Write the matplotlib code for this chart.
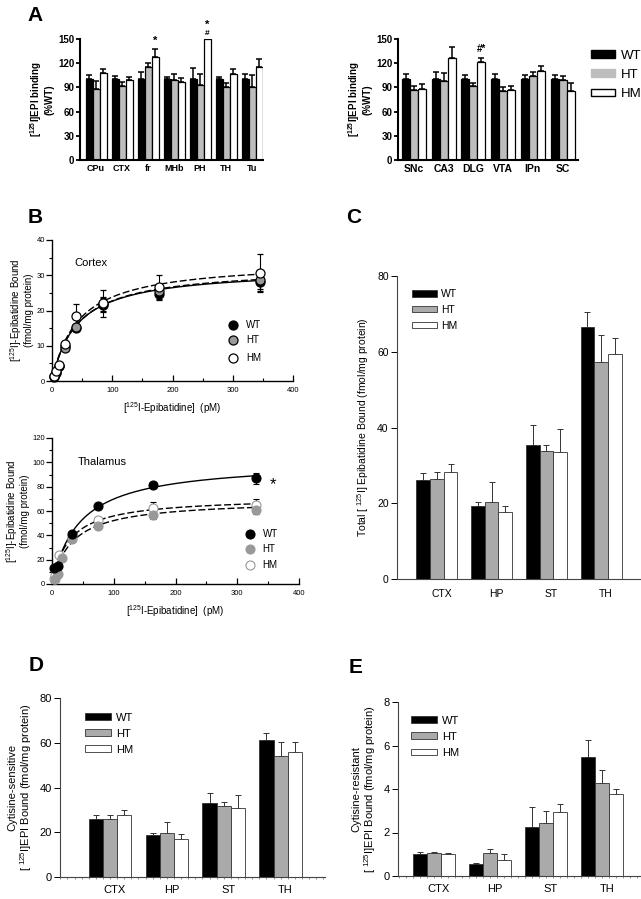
import numpy as np
import matplotlib
matplotlib.use('Agg')
import matplotlib.pyplot as plt
from matplotlib.patches import Patch
from matplotlib.ticker import MultipleLocator

plt.rcParams['font.family'] = ['Liberation Sans', 'DejaVu Sans']
plt.rcParams['mathtext.fontset'] = 'custom'
plt.rcParams['mathtext.rm'] = 'Liberation Sans'
plt.rcParams['mathtext.bf'] = 'Liberation Sans:bold'
plt.rcParams['mathtext.default'] = 'regular'

# ---- Panel A: binding as %WT ----
a_left_regions = ['CPu', 'CTX', 'fr', 'MHb', 'PH', 'TH', 'Tu']
a_left_wt = [100, 100, 100, 100, 100, 100, 100]
a_left_ht = [88, 92, 115, 99, 93, 90, 90]
a_left_hm = [108, 99, 128, 97, 150, 107, 115]
a_left_wt_err = [5.5, 4, 8.5, 3, 14, 3, 7]
a_left_ht_err = [10, 5, 5, 7, 14, 5, 15]
a_left_hm_err = [5, 4, 9, 5, 0, 5.5, 10]

a_right_regions = ['SNc', 'CA3', 'DLG', 'VTA', 'IPn', 'SC']
a_right_wt = [100, 100, 100, 100, 100, 100]
a_right_ht = [87, 98, 92, 85, 104, 99]
a_right_hm = [88, 126, 122, 87, 110, 86]
a_right_wt_err = [6.5, 9.5, 5, 6.5, 5.5, 5]
a_right_ht_err = [5, 10, 3, 5, 4.5, 5.5]
a_right_hm_err = [6.5, 14, 5, 5, 6, 9]

# ---- Panel B: saturation binding ----
ctx_x = [3, 7, 11, 21, 40, 84, 177, 345]
ctx_wt = [1.2, 2.4, 4.2, 9.8, 15.0, 21.5, 24.8, 28.0]
ctx_ht = [1.3, 2.5, 4.3, 9.5, 15.2, 21.8, 25.5, 28.6]
ctx_hm = [1.4, 2.7, 4.5, 10.4, 18.3, 22.0, 26.6, 30.7]
ctx_wt_err = [0.3, 0.3, 0.4, 0.6, 0.8, 2.0, 1.5, 2.5]
ctx_ht_err = [0.3, 0.3, 0.4, 0.6, 0.8, 2.0, 1.5, 2.5]
ctx_hm_err = [0.3, 0.4, 0.5, 1.0, 3.6, 3.8, 3.6, 5.4]
ctx_bmax = {'WT': 31.9, 'HT': 32.3, 'HM': 34.1}
ctx_kd = {'WT': 41, 'HT': 42, 'HM': 43.2}

th_wt_x = [4, 9, 32, 74, 163, 331]
th_wt = [13, 15, 41.5, 64, 81.5, 87]
th_wt_err = [2, 2, 2, 2, 2, 4.5]
th_ht_x = [5, 9, 17, 32, 74, 163, 331]
th_ht = [4, 8, 21, 37, 47.5, 57, 61]
th_ht_err = [1, 1, 2, 2, 2, 3.5, 3.5]
th_hm_x = [3, 5, 7, 12, 32, 74, 163, 331]
th_hm = [3.8, 7, 11.5, 24, 39, 52.5, 62.5, 65]
th_hm_err = [1, 1, 1, 2, 2, 2, 5, 5]
th_bmax = {'WT': 101, 'HT': 69.2, 'HM': 71.5}
th_kd = {'WT': 44.6, 'HT': 32.7, 'HM': 27.8}

# ---- Panels C, D, E: fmol/mg protein ----
regions = ['CTX', 'HP', 'ST', 'TH']
c_wt = [26.2, 19.2, 35.3, 66.5]
c_ht = [26.4, 20.3, 33.8, 57.4]
c_hm = [28.2, 17.8, 33.4, 59.4]
c_wt_err = [1.8, 1.0, 5.3, 3.9]
c_ht_err = [1.8, 5.2, 1.5, 7.0]
c_hm_err = [2.2, 1.6, 6.2, 4.3]

d_wt = [25.7, 18.8, 33.2, 61.2]
d_ht = [25.7, 19.7, 31.6, 54.0]
d_hm = [27.7, 17.2, 30.7, 55.8]
d_wt_err = [2.0, 0.9, 4.5, 3.2]
d_ht_err = [2.0, 5.0, 1.7, 6.4]
d_hm_err = [2.1, 1.9, 5.8, 4.5]

e_wt = [1.00, 0.57, 2.27, 5.45]
e_ht = [1.04, 1.07, 2.44, 4.27]
e_hm = [1.03, 0.74, 2.96, 3.76]
e_wt_err = [0.12, 0.04, 0.91, 0.80]
e_ht_err = [0.06, 0.16, 0.57, 0.60]
e_hm_err = [0.04, 0.26, 0.37, 0.23]

W, H = 641, 899
fig = plt.figure(figsize=(W / 100, H / 100), dpi=100)


def px_axes(x0, y0, x1, y1):
    return fig.add_axes([x0 / W, 1 - y1 / H, (x1 - x0) / W, (y1 - y0) / H])


def bars_a(ax, labels, wt, ht, hm, wte, hte, hme, xlim, fs):
    x = np.arange(len(labels))
    w = 0.27
    for off, vals, errs, col in [(-w, wt, wte, 'black'), (0, ht, hte, '#bdbdbd'), (w, hm, hme, 'white')]:
        ax.bar(x + off, vals, w, color=col, edgecolor='black', linewidth=0.9, zorder=2)
        ax.errorbar(x + off, vals, yerr=[np.zeros(len(vals)), errs], fmt='none',
                    ecolor='black', elinewidth=1.1, capsize=2.2, capthick=1.1, zorder=1)
    ax.set_xlim(*xlim)
    ax.set_ylim(0, 150)
    ax.set_yticks([0, 30, 60, 90, 120, 150])
    ax.set_xticks(x)
    ax.set_xticklabels(labels, fontweight='bold', fontsize=fs)
    ax.tick_params(axis='x', length=0, pad=3)
    ax.tick_params(axis='y', length=3, width=1.3, labelsize=7, pad=1)
    for t in ax.get_yticklabels():
        t.set_fontweight('bold')
    for s in ['top', 'right']:
        ax.spines[s].set_visible(False)
    for s in ['left', 'bottom']:
        ax.spines[s].set_linewidth(1.5)
    ax.set_ylabel('[$^{125}$I]EPI binding\n(%WT)', fontweight='bold', fontsize=7, labelpad=3,
                  linespacing=1.0)
    return x


# A left
axA1 = px_axes(80, 39, 263, 160)
xa = bars_a(axA1, a_left_regions, a_left_wt, a_left_ht, a_left_hm,
            a_left_wt_err, a_left_ht_err, a_left_hm_err, (-0.62, 6.42), 6.5)
axA1.text(xa[2] + 0.27, 141, '*', ha='center', va='bottom', fontsize=8, fontweight='bold')
axA1.text(xa[4] + 0.27, 153, '#', ha='center', va='bottom', fontsize=6, fontweight='bold', clip_on=False)
axA1.text(xa[4] + 0.27, 161, '*', ha='center', va='bottom', fontsize=8, fontweight='bold', clip_on=False)

# A right
axA2 = px_axes(398, 39, 578, 160)
xb = bars_a(axA2, a_right_regions, a_right_wt, a_right_ht, a_right_hm,
            a_right_wt_err, a_right_ht_err, a_right_hm_err, (-0.54, 5.52), 7.5)
axA2.text(xb[2] + 0.27, 131, '#*', ha='center', va='bottom', fontsize=7, fontweight='bold')
leg_handles = [Patch(facecolor='black', edgecolor='black'),
               Patch(facecolor='#bdbdbd', edgecolor='#bdbdbd'),
               Patch(facecolor='white', edgecolor='black')]
fig.legend(leg_handles, ['WT', 'HT', 'HM'], loc='upper left', bbox_to_anchor=(584 / W, 1 - 43 / H),
           frameon=False, fontsize=9.5, handlelength=1.85, handleheight=0.5, labelspacing=0.55,
           handletextpad=0.45, borderpad=0)


# ---- B ----
def sat_axes(ax, ymax, ymaj):
    ax.set_xlim(0, 400)
    ax.set_ylim(0, ymax)
    ax.xaxis.set_major_locator(MultipleLocator(100))
    ax.xaxis.set_minor_locator(MultipleLocator(50))
    ax.yaxis.set_major_locator(MultipleLocator(ymaj))
    ax.yaxis.set_minor_locator(MultipleLocator(ymaj / 2))
    ax.tick_params(axis='x', direction='in', length=4, width=0.9, labelsize=5.5, pad=4)
    ax.tick_params(axis='x', which='minor', direction='in', length=2, width=0.8)
    ax.tick_params(axis='y', direction='out', length=4, width=0.9, labelsize=5.5, pad=1)
    ax.tick_params(axis='y', which='minor', direction='out', length=2, width=0.8)
    for s in ['top', 'right']:
        ax.spines[s].set_visible(False)
    for s in ['left', 'bottom']:
        ax.spines[s].set_linewidth(1.0)
    ax.set_ylabel('[$^{125}$I]-Epibatidine Bound\n(fmol/mg protein)', fontsize=7, labelpad=2,
                  linespacing=1.0)
    ax.set_xlabel('[$^{125}$I-Epibatidine]  (pM)', fontsize=7, labelpad=5)


axB1 = px_axes(52, 240, 293, 381)
sat_axes(axB1, 40, 10)
xx = np.linspace(1, 345, 200)
for g, ls in [('WT', '-'), ('HT', '--'), ('HM', '--')]:
    axB1.plot(xx, ctx_bmax[g] * xx / (ctx_kd[g] + xx), color='black', ls=ls, lw=1.0, zorder=2,
              dashes=(5, 2) if ls == '--' else (None, None))
for xs, ys, es, fc, ec in [(ctx_x, ctx_wt, ctx_wt_err, 'black', 'black'),
                           (ctx_x, ctx_ht, ctx_ht_err, '#999999', 'black'),
                           (ctx_x, ctx_hm, ctx_hm_err, 'white', 'black')]:
    axB1.errorbar(xs, ys, yerr=es, fmt='o', ms=6.5, mfc=fc, mec=ec, mew=0.9, ecolor='black',
                  elinewidth=0.8, capsize=2, zorder=3, clip_on=False)
axB1.text(37, 33.5, 'Cortex', fontsize=8, va='center')
for yv, fc, ec, lab in [(16, 'black', 'black', 'WT'), (11.6, '#999999', 'black', 'HT'),
                        (6.6, 'white', 'black', 'HM')]:
    axB1.plot([301], [yv], 'o', ms=6.5, mfc=fc, mec=ec, mew=0.9)
    axB1.text(322, yv, lab, fontsize=7, va='center')

axB2 = px_axes(52, 438, 299, 584)
sat_axes(axB2, 120, 20)
xx = np.linspace(2, 335, 200)
for g, ls in [('WT', '-'), ('HT', '--'), ('HM', '--')]:
    axB2.plot(xx, th_bmax[g] * xx / (th_kd[g] + xx), color='black', ls=ls, lw=1.0, zorder=2,
              dashes=(5, 2) if ls == '--' else (None, None))
for xs, ys, es, fc, ec in [(th_hm_x, th_hm, th_hm_err, 'white', '#999999'),
                           (th_ht_x, th_ht, th_ht_err, '#999999', '#999999'),
                           (th_wt_x, th_wt, th_wt_err, 'black', 'black')]:
    axB2.errorbar(xs, ys, yerr=es, fmt='o', ms=6.5, mfc=fc, mec=ec, mew=0.8, ecolor='black',
                  elinewidth=0.8, capsize=2, zorder=3, clip_on=False)
axB2.text(41, 100, 'Thalamus', fontsize=8, va='center')
axB2.text(358, 82, '*', fontsize=12, ha='center', va='center')
for yv, fc, ec, lab in [(41, 'black', 'black', 'WT'), (29, '#999999', '#999999', 'HT'),
                        (15.6, 'white', '#999999', 'HM')]:
    axB2.plot([320], [yv], 'o', ms=6.5, mfc=fc, mec=ec, mew=0.8)
    axB2.text(341, yv, lab, fontsize=7, va='center')


# ---- C, D, E ----
def bars_c(ax, wt, ht, hm, wte, hte, hme, ymax, ystep, xlim, ylabel, fs, leg_anchor, xpad):
    x = np.arange(len(regions))
    w = 0.25
    for off, vals, errs, col in [(-w, wt, wte, 'black'), (0, ht, hte, '#aaaaaa'), (w, hm, hme, 'white')]:
        ax.bar(x + off, vals, w, color=col, edgecolor='#333333', linewidth=0.6, zorder=2)
        ax.errorbar(x + off, vals, yerr=[np.zeros(len(vals)), errs], fmt='none',
                    ecolor='#333333', elinewidth=0.7, capsize=2, capthick=0.7, zorder=1)
    ax.set_xlim(*xlim)
    ax.set_ylim(0, ymax)
    ax.yaxis.set_major_locator(MultipleLocator(ystep))
    ax.set_xticks(x + 0.08)
    ax.set_xticklabels(regions, fontsize=fs)
    ax.xaxis.set_minor_locator(MultipleLocator(0.125))
    ax.tick_params(axis='x', which='major', length=0, pad=xpad)
    ax.tick_params(axis='x', which='minor', length=1.5, width=0.5, color='#666666')
    ax.tick_params(axis='y', length=4, width=0.7, labelsize=fs, pad=2)
    for s in ['top', 'right']:
        ax.spines[s].set_visible(False)
    for s in ['left', 'bottom']:
        ax.spines[s].set_linewidth(0.8)
        ax.spines[s].set_color('#444444')
    ax.set_ylabel(ylabel, fontsize=fs, labelpad=4, linespacing=1.05)
    handles = [Patch(facecolor='black', edgecolor='#333333', linewidth=0.6),
               Patch(facecolor='#aaaaaa', edgecolor='#333333', linewidth=0.6),
               Patch(facecolor='white', edgecolor='#333333', linewidth=0.6)]
    ax.legend(handles, ['WT', 'HT', 'HM'], loc='upper left', bbox_to_anchor=leg_anchor,
              bbox_transform=fig.transFigure, frameon=False, fontsize=fs, handlelength=2.4,
              handleheight=0.55, labelspacing=0.55, handletextpad=0.4, borderpad=0)


axC = px_axes(397, 276, 641, 579)
bars_c(axC, c_wt, c_ht, c_hm, c_wt_err, c_ht_err, c_hm_err, 80, 20, (-0.73, 3.73),
       'Total [ $^{125}$I] Epibatidine Bound (fmol/mg protein)', 7.5, (407 / W, 1 - 284 / H), 7)
axC.xaxis.set_minor_locator(plt.NullLocator())

axD = px_axes(60, 698, 325, 877)
bars_c(axD, d_wt, d_ht, d_hm, d_wt_err, d_ht_err, d_hm_err, 80, 20, (-0.88, 3.78),
       'Cytisine-sensitive\n[ $^{125}$I]EPI Bound (fmol/mg protein)', 8, (79 / W, 1 - 707 / H), 6)

axE = px_axes(398, 702, 640, 876)
bars_c(axE, e_wt, e_ht, e_hm, e_wt_err, e_ht_err, e_hm_err, 8, 2, (-0.65, 3.67),
       'Cytisine-resistant\n[ $^{125}$I]EPI Bound (fmol/mg protein)', 8, (405 / W, 1 - 710 / H), 6)

# panel letters
for lx, ly, lab in [(27, 21, 'A'), (28, 223, 'B'), (346, 223, 'C'), (29, 671, 'D'), (349, 673, 'E')]:
    fig.text(lx / W, 1 - ly / H, lab, fontsize=15, fontweight='bold', ha='left', va='baseline')

fig.savefig('out.png', dpi=100)
